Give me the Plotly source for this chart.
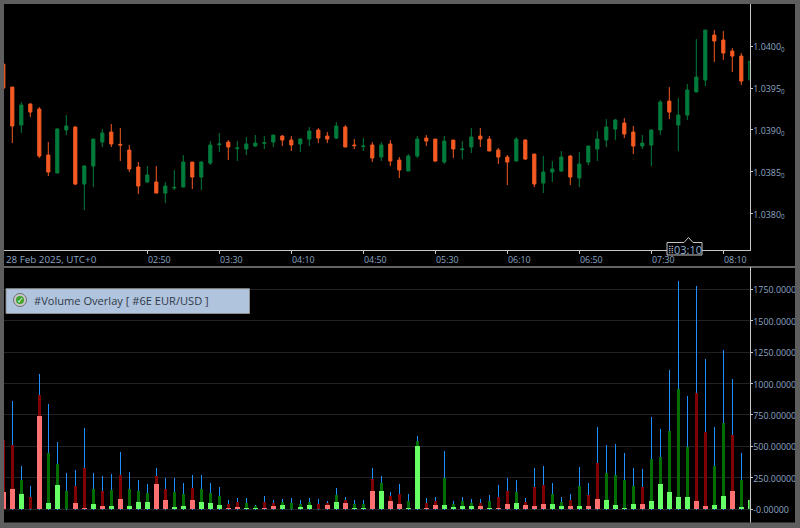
import pandas as pd
import plotly.graph_objects as go

times = pd.date_range("2025-02-28 01:30", periods=84, freq="5min")

opens = [1.039786,1.039511,1.039057,1.039308,1.039248,1.038698,1.038483,1.038997,1.039033,1.038351,
         1.038566,1.038853,1.038973,1.038826,1.038758,1.038555,1.038375,1.038375,1.038243,1.038303,
         1.038315,1.038614,1.038435,1.038602,1.038822,1.038853,1.038774,1.038770,1.038806,1.038838,
         1.038853,1.038925,1.038877,1.038830,1.038889,1.038997,1.038925,1.038901,1.039033,1.038818,
         1.038798,1.038818,1.038674,1.038830,1.038638,1.038507,1.038686,1.038901,1.038889,1.038614,
         1.038877,1.038762,1.038794,1.038925,1.038889,1.038758,1.038674,1.038626,1.038877,1.038710,
         1.038363,1.038495,1.038507,1.038686,1.038423,1.038614,1.038770,1.038877,1.039009,1.039081,
         1.038973,1.038806,1.038818,1.038997,1.039344,1.039057,1.039176,1.039452,1.039595,1.040133,
         1.040074,1.039942,1.039882,1.039595]
highs = [1.039786,1.039511,1.039332,1.039320,1.039272,1.038853,1.039021,1.039176,1.039045,1.038578,
         1.038889,1.039009,1.039069,1.039021,1.038818,1.038614,1.038566,1.038566,1.038375,1.038519,
         1.038698,1.038614,1.038626,1.038865,1.038961,1.038877,1.038865,1.038913,1.038937,1.038925,
         1.038937,1.038937,1.038925,1.038901,1.039033,1.039021,1.038973,1.039093,1.039057,1.038889,
         1.038901,1.038853,1.038853,1.038877,1.038674,1.038710,1.038925,1.038937,1.038889,1.038925,
         1.038877,1.038865,1.039021,1.039021,1.038925,1.038782,1.038698,1.038913,1.038889,1.038710,
         1.038686,1.038626,1.038746,1.038698,1.038734,1.038806,1.038985,1.039128,1.039128,1.039140,
         1.039045,1.038937,1.039009,1.039356,1.039511,1.039380,1.039547,1.040086,1.040193,1.040193,
         1.040181,1.039978,1.039918,1.039822]
lows = [1.039499,1.038841,1.038961,1.039152,1.038662,1.038447,1.038483,1.038937,1.038339,1.038040,
        1.038315,1.038794,1.038794,1.038626,1.038495,1.038231,1.038363,1.038243,1.038124,1.038279,
        1.038315,1.038291,1.038279,1.038578,1.038734,1.038638,1.038626,1.038698,1.038794,1.038770,
        1.038794,1.038806,1.038746,1.038734,1.038806,1.038841,1.038841,1.038889,1.038794,1.038770,
        1.038746,1.038614,1.038626,1.038566,1.038423,1.038507,1.038662,1.038806,1.038614,1.038590,
        1.038662,1.038650,1.038722,1.038794,1.038746,1.038590,1.038339,1.038626,1.038638,1.038315,
        1.038243,1.038375,1.038495,1.038339,1.038315,1.038578,1.038626,1.038794,1.038877,1.038901,
        1.038710,1.038770,1.038566,1.038937,1.039128,1.038746,1.039117,1.039452,1.039523,1.039810,
        1.039834,1.039691,1.039535,1.039595]
closes = [1.039499,1.039045,1.039296,1.039212,1.038686,1.038495,1.039009,1.039045,1.038351,1.038566,
          1.038889,1.038961,1.038830,1.038818,1.038531,1.038327,1.038459,1.038243,1.038327,1.038311,
          1.038614,1.038435,1.038614,1.038818,1.038830,1.038794,1.038782,1.038830,1.038841,1.038846,
          1.038937,1.038877,1.038818,1.038889,1.038985,1.038901,1.038889,1.039045,1.038794,1.038810,
          1.038806,1.038662,1.038818,1.038626,1.038519,1.038686,1.038889,1.038865,1.038626,1.038865,
          1.038770,1.038770,1.038913,1.038889,1.038746,1.038674,1.038614,1.038889,1.038650,1.038351,
          1.038495,1.038531,1.038674,1.038435,1.038590,1.038806,1.038889,1.039033,1.039117,1.038949,
          1.038806,1.038841,1.038997,1.039332,1.039212,1.039176,1.039476,1.039631,1.040193,1.040062,
          1.039918,1.039882,1.039583,1.039822]

vol_blue = [550,861,343,183,1076,837,534,287,311,646,287,263,279,454,295,231,199,327,247,247,
            207,271,271,207,175,72,88,88,32,104,72,80,88,72,88,80,64,167,96,72,
            72,327,263,136,199,120,582,88,96,462,64,96,80,80,112,191,247,231,88,327,
            343,207,96,120,335,207,654,510,518,446,327,319,733,638,1108,1817,901,1778,1196,654,
            1267,1036,446,90]
vol_dark = [550,510,231,96,909,446,359,143,183,327,159,143,151,271,159,143,128,263,159,136,
            120,167,159,128,104,40,56,48,24,56,48,56,48,40,56,40,48,112,72,40,
            40,239,207,104,120,64,542,48,64,247,40,64,48,48,64,96,143,136,56,175,
            191,120,56,72,183,112,367,287,271,231,183,175,399,414,622,957,494,925,614,343,
            686,590,231,80]
vol_light = [135,159,120,3,741,48,191,2,48,8,40,24,24,80,24,56,56,199,72,16,
             24,72,56,48,32,8,16,8,8,8,24,32,2,16,32,2,32,56,48,8,
             8,143,143,64,40,8,502,8,32,32,16,24,24,24,8,8,40,48,32,24,
             40,40,24,24,24,24,80,72,32,8,40,40,64,199,136,96,96,64,24,32,
             104,143,16,72]
vol_up = [0,0,1,0,0,1,1,1,0,0,1,0,1,0,1,1,1,0,0,1,
          1,0,1,1,1,0,0,1,1,0,0,1,1,1,1,0,0,1,0,1,
          1,0,1,0,0,1,1,0,0,1,1,1,1,0,1,0,0,1,0,0,
          0,1,1,0,1,0,0,1,1,1,1,0,1,1,1,1,1,0,0,1,
          1,0,1,1]

time_tick_vals = ["2025-02-28 02:50","2025-02-28 03:30","2025-02-28 04:10","2025-02-28 04:50","2025-02-28 05:30",
                  "2025-02-28 06:10","2025-02-28 06:50","2025-02-28 07:30","2025-02-28 08:10"]
time_tick_text = ["02:50","03:30","04:10","04:50","05:30","06:10","06:50","07:30","08:10"]
price_ticks = [1.0380,1.0385,1.0390,1.0395,1.0400]
price_text = ["1.0380<sub>0</sub>","1.0385<sub>0</sub>","1.0390<sub>0</sub>","1.0395<sub>0</sub>","1.0400<sub>0</sub>"]
vol_ticks = [0,250,500,750,1000,1250,1500,1750]
vol_text = ["-0.00000","250.00000","500.00000","750.00000","1000.00000","1250.00000","1500.00000","1750.00000"]

W, H = 800, 528
def px(x): return x / W
def py(y): return 1 - y / H

ORANGE, GREEN = "#F55A22", "#007C3C"
AXIS = "#C8C8C8"
LABEL = "#8FA6C4"
FRAME = "#5E5E5E"
FONT = "Open Sans"

dark_colors = ["#006E00" if u else "#800000" for u in vol_up]
light_colors = ["#66FF66" if u else "#FF7070" for u in vol_up]
FIVE_MIN = 300000

fig = go.Figure()
fig.add_trace(go.Candlestick(x=times, open=opens, high=highs, low=lows, close=closes,
    increasing=dict(line=dict(color=GREEN, width=1), fillcolor=GREEN),
    decreasing=dict(line=dict(color=ORANGE, width=1), fillcolor=ORANGE),
    whiskerwidth=0, xaxis="x", yaxis="y", showlegend=False))
fig.add_trace(go.Bar(x=times, y=[v + 6 for v in vol_blue], base=-6, width=FIVE_MIN * 0.111,
    marker=dict(color="#1E90FF", line_width=0), xaxis="x2", yaxis="y2", showlegend=False))
fig.add_trace(go.Bar(x=times, y=vol_dark, width=FIVE_MIN * 0.333,
    marker=dict(color=dark_colors, line_width=0), xaxis="x2", yaxis="y2", showlegend=False))
fig.add_trace(go.Bar(x=times, y=vol_light, width=FIVE_MIN * 0.556,
    marker=dict(color=light_colors, line_width=0), xaxis="x2", yaxis="y2", showlegend=False))

xrange_ = ["2025-02-28 01:30:23.3", "2025-02-28 08:24:33"]
tick_font = dict(family=FONT, size=8.9, color=LABEL)
shapes = []
frame = [(0, 0, 4, H), (795, 0, W, H), (0, 0, W, 4), (0, 522.5, W, H)]
for x0, y0, x1, y1 in frame:
    shapes.append(dict(type="rect", xref="paper", yref="paper", x0=px(x0), x1=px(x1), y0=py(y1), y1=py(y0),
                       fillcolor=FRAME, line_width=0, layer="above"))
shapes.append(dict(type="line", xref="paper", yref="paper", x0=px(4), x1=px(795), y0=py(267), y1=py(267),
                   line=dict(color=AXIS, width=1), layer="above"))
shapes.append(dict(type="rect", xref="paper", yref="paper", x0=px(6), x1=px(249.5), y0=py(313.5), y1=py(288.7),
                   fillcolor="#B0C4DE", line=dict(color="#8C8C8C", width=1), layer="above"))
shapes.append(dict(type="circle", xref="paper", yref="paper", x0=px(13.5), x1=px(26.5), y0=py(306.5), y1=py(293.5),
                   fillcolor="#C8C8C8", line=dict(color="#6E6E6E", width=1), layer="above"))
shapes.append(dict(type="circle", xref="paper", yref="paper", x0=px(16), x1=px(24), y0=py(304), y1=py(296),
                   fillcolor="#3FA32F", line_width=0, layer="above"))
badge = [(667, 242.5), (684, 242.5), (688.5, 237.5), (693, 242.5), (702, 242.5), (702, 255), (667, 255)]
path = "M " + " L ".join(f"{px(a):.5f},{py(b):.5f}" for a, b in badge) + " Z"
shapes.append(dict(type="path", xref="paper", yref="paper", path=path, fillcolor="#000000",
                   line=dict(color=AXIS, width=1), layer="above"))

annotations = [
    dict(xref="paper", yref="paper", x=px(4), y=py(259), text="28 Feb 2025, UTC+0", showarrow=False,
         xanchor="left", yanchor="middle", font=dict(family=FONT, size=9.8, color=LABEL)),
    dict(xref="paper", yref="paper", x=px(31.5), y=py(300.5), text="#Volume Overlay [ #6E EUR/USD ]", showarrow=False,
         xanchor="left", yanchor="middle", font=dict(family=FONT, size=11.1, color="#303A48")),
    dict(xref="paper", yref="paper", x=px(20), y=py(300), text="✓", showarrow=False,
         xanchor="center", yanchor="middle", font=dict(family="DejaVu Sans", size=8, color="#FFFFFF")),
    dict(xref="paper", yref="paper", x=px(672), y=py(249), text="03:10", showarrow=False,
         xanchor="left", yanchor="middle", font=dict(family=FONT, size=11, color="#8FB0D8")),
    dict(xref="paper", yref="paper", x=px(670.5), y=py(249), text="⣿", showarrow=False,
         xanchor="center", yanchor="middle", font=dict(family="DejaVu Sans", size=8, color="#C8C8C8")),
]

fig.update_layout(
    width=W, height=H, margin=dict(l=0, r=0, t=0, b=0, autoexpand=False), autosize=False,
    paper_bgcolor="#000000", plot_bgcolor="#000000", barmode="overlay", bargap=0,
    boxgap=0.5, dragmode=False, hovermode=False, showlegend=False,
    xaxis=dict(domain=[px(4), px(749.5)], range=xrange_, type="date", anchor="y", rangeslider_visible=False,
               tickmode="array", tickvals=time_tick_vals, ticktext=time_tick_text, ticks="outside", ticklen=3,
               tickcolor=AXIS, tickwidth=1, ticklabelshift=12, ticklabelstandoff=-2, tickfont=tick_font,
               showline=True, linecolor=AXIS, linewidth=1, showgrid=False, zeroline=False),
    yaxis=dict(domain=[py(250), py(4)], range=[1.037562, 1.040505], side="right", anchor="x",
               tickmode="array", tickvals=price_ticks, ticktext=price_text, ticks="outside", ticklen=2,
               tickcolor=AXIS, tickwidth=1, ticklabelstandoff=-1, ticklabelshift=1, tickfont=tick_font, showline=True,
               linecolor=AXIS, linewidth=1, showgrid=False, zeroline=False),
    xaxis2=dict(domain=[px(4), px(749.5)], range=xrange_, type="date", anchor="y2", visible=False),
    yaxis2=dict(domain=[py(522.5), py(267)], range=[-107.5, 1927.7], side="right", anchor="x2",
                tickmode="array", tickvals=vol_ticks, ticktext=vol_text, ticks="outside", ticklen=2,
                tickcolor=AXIS, tickwidth=1, ticklabelstandoff=-1, ticklabelshift=1, tickfont=tick_font, showline=True,
                linecolor=AXIS, linewidth=1, showgrid=True, gridcolor="#222226", gridwidth=1, zeroline=False),
    shapes=shapes, annotations=annotations,
)
fig.write_html("out.html", config=dict(displayModeBar=False, staticPlot=True),
               post_script="document.body.style.margin='0';document.documentElement.style.overflow='hidden';")
